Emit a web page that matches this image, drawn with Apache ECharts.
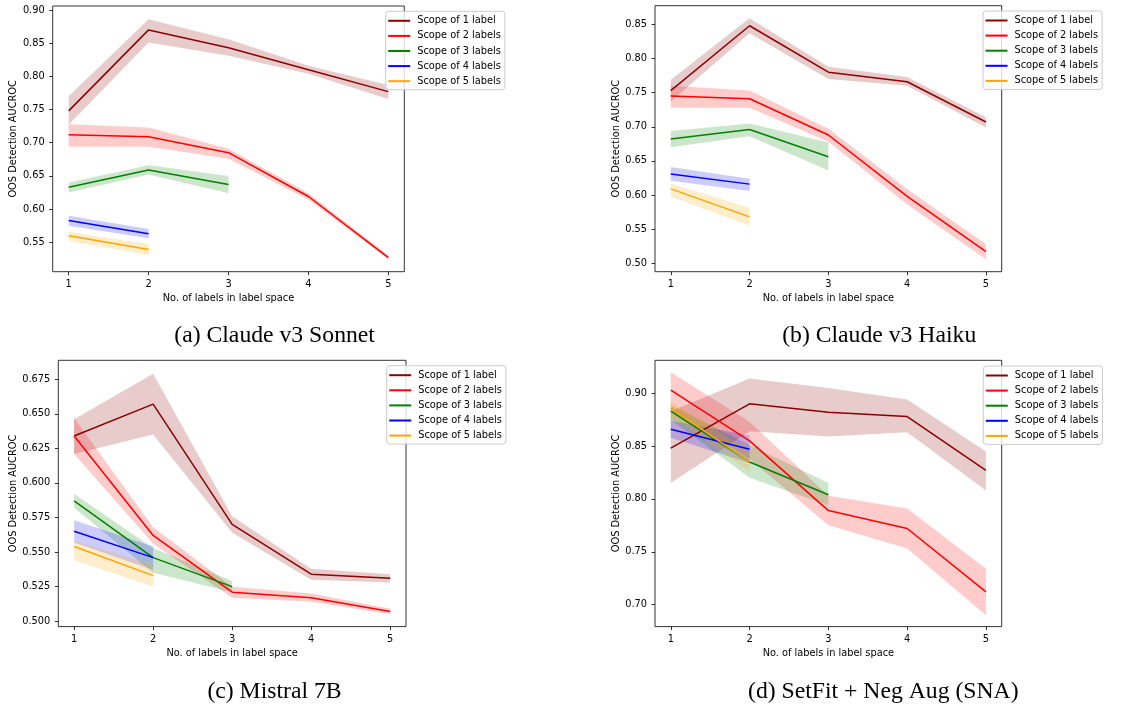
<!DOCTYPE html>
<html><head><meta charset="utf-8">
<script src="https://cdn.jsdelivr.net/npm/echarts@6/dist/echarts.min.js"></script>
<style>html,body{margin:0;padding:0;background:#fff}#c{width:1148px;height:706px}</style>
</head><body><div id="c"></div>
<script>
// ---------- DATA ----------
const xTicks = [1, 2, 3, 4, 5];
const scopeNames = ['Scope of 1 label', 'Scope of 2 labels', 'Scope of 3 labels', 'Scope of 4 labels', 'Scope of 5 labels'];
const scopeX = [[1, 2, 3, 4, 5], [1, 2, 3, 4, 5], [1, 2, 3], [1, 2], [1, 2]];
const captions = ['(a) Claude v3 Sonnet', '(b) Claude v3 Haiku', '(c) Mistral 7B', '(d) SetFit + Neg Aug (SNA)'];
const xAxisTitle = 'No. of labels in label space';
const yAxisTitle = 'OOS Detection AUCROC';

// (a) Claude v3 Sonnet
const sonnetMean = [[0.748, 0.870, 0.843, 0.810, 0.777], [0.712, 0.709, 0.685, 0.619, 0.527], [0.633, 0.659, 0.637], [0.583, 0.563], [0.560, 0.539]];
const sonnetLow  = [[0.727, 0.851, 0.831, 0.804, 0.766], [0.694, 0.694, 0.676, 0.614, 0.524], [0.625, 0.652, 0.624], [0.575, 0.556], [0.552, 0.531]];
const sonnetHigh = [[0.770, 0.886, 0.856, 0.816, 0.787], [0.728, 0.723, 0.691, 0.624, 0.530], [0.640, 0.666, 0.650], [0.590, 0.570], [0.566, 0.547]];
const sonnetYTicks = [0.55, 0.60, 0.65, 0.70, 0.75, 0.80, 0.85, 0.90];

// (b) Claude v3 Haiku
const haikuMean = [[0.753, 0.848, 0.780, 0.766, 0.707], [0.745, 0.741, 0.688, 0.598, 0.517], [0.682, 0.696, 0.656], [0.631, 0.616], [0.609, 0.568]];
const haikuLow  = [[0.737, 0.837, 0.770, 0.760, 0.699], [0.728, 0.728, 0.678, 0.586, 0.506], [0.670, 0.686, 0.636], [0.621, 0.606], [0.598, 0.555]];
const haikuHigh = [[0.769, 0.859, 0.788, 0.773, 0.714], [0.760, 0.753, 0.697, 0.609, 0.528], [0.694, 0.705, 0.677], [0.641, 0.624], [0.617, 0.581]];
const haikuYTicks = [0.50, 0.55, 0.60, 0.65, 0.70, 0.75, 0.80, 0.85];

// (c) Mistral 7B
const mistralMean = [[0.634, 0.657, 0.570, 0.534, 0.531], [0.634, 0.562, 0.521, 0.517, 0.507], [0.587, 0.546, 0.525], [0.565, 0.546], [0.554, 0.533]];
const mistralLow  = [[0.621, 0.635, 0.564, 0.530, 0.528], [0.621, 0.556, 0.517, 0.514, 0.505], [0.582, 0.535, 0.521], [0.557, 0.537], [0.544, 0.525]];
const mistralHigh = [[0.646, 0.679, 0.576, 0.538, 0.534], [0.647, 0.568, 0.525, 0.520, 0.509], [0.592, 0.553, 0.529], [0.573, 0.554], [0.558, 0.541]];
const mistralYTicks = [0.500, 0.525, 0.550, 0.575, 0.600, 0.625, 0.650, 0.675];

// (d) SetFit + Neg Aug (SNA)
const setfitMean = [[0.848, 0.890, 0.882, 0.878, 0.827], [0.903, 0.855, 0.789, 0.772, 0.712], [0.883, 0.835, 0.804], [0.866, 0.847], [0.886, 0.835]];
const setfitLow  = [[0.815, 0.864, 0.859, 0.863, 0.808], [0.884, 0.838, 0.775, 0.753, 0.690], [0.875, 0.820, 0.794], [0.858, 0.834], [0.878, 0.826]];
const setfitHigh = [[0.883, 0.914, 0.905, 0.894, 0.845], [0.920, 0.873, 0.803, 0.791, 0.734], [0.889, 0.851, 0.815], [0.874, 0.860], [0.893, 0.845]];
const setfitYTicks = [0.70, 0.75, 0.80, 0.85, 0.90];

// ---------- STYLE / LAYOUT ----------
const COLORS = ['#8b0000', '#ff0000', '#008000', '#0000ff', '#ffa500'];
const BANDS = ['rgba(139,0,0,0.2)', 'rgba(255,0,0,0.2)', 'rgba(0,128,0,0.2)', 'rgba(0,0,255,0.2)', 'rgba(255,165,0,0.2)'];
const FS = 9.8;
const SANS = 'DejaVu Sans';

const panels = [
  { mean: sonnetMean, lo: sonnetLow, hi: sonnetHigh, ticks: sonnetYTicks, dec: 2,
    grid: { left: 52.7, top: 6, width: 351.6, height: 265.7 }, ymin: 0.5057, ymax: 0.906, nameGap: 34,
    legend: { left: 385.7, top: 11.3 }, cap: { x: 274.6, y: 336 } },
  { mean: haikuMean, lo: haikuLow, hi: haikuHigh, ticks: haikuYTicks, dec: 2,
    grid: { left: 655, top: 5.7, width: 346.7, height: 266 }, ymin: 0.4877, ymax: 0.8774, nameGap: 34,
    legend: { left: 983, top: 11 }, cap: { x: 879.2, y: 336 } },
  { mean: mistralMean, lo: mistralLow, hi: mistralHigh, ticks: mistralYTicks, dec: 3,
    grid: { left: 58.3, top: 360.3, width: 347.7, height: 266.3 }, ymin: 0.4961, ymax: 0.6887, nameGap: 39,
    legend: { left: 386.7, top: 365.7 }, cap: { x: 274.5, y: 692 } },
  { mean: setfitMean, lo: setfitLow, hi: setfitHigh, ticks: setfitYTicks, dec: 2,
    grid: { left: 655, top: 360.3, width: 346.7, height: 266.3 }, ymin: 0.6792, ymax: 0.9312, nameGap: 34,
    legend: { left: 983.3, top: 366 }, cap: { x: 883.3, y: 692 } }
];

const option = { animation: false, backgroundColor: '#fff', grid: [], xAxis: [], yAxis: [], series: [], legend: [], graphic: [] };

panels.forEach((p, pi) => {
  option.grid.push(Object.assign({ show: true, borderColor: '#000', borderWidth: 0.8, backgroundColor: 'transparent' }, p.grid));
  option.xAxis.push({
    type: 'value', gridIndex: pi, min: 0.8, max: 5.2,
    name: xAxisTitle, nameLocation: 'middle', nameGap: 22,
    nameTextStyle: { fontFamily: SANS, fontSize: FS, color: '#000' },
    axisLine: { show: false },
    axisTick: { show: true, customValues: xTicks, length: 3.5, lineStyle: { color: '#000', width: 0.8 } },
    axisLabel: { customValues: xTicks, margin: 7.5, fontFamily: SANS, fontSize: FS, color: '#000', formatter: v => String(v) },
    splitLine: { show: false }
  });
  option.yAxis.push({
    type: 'value', gridIndex: pi, min: p.ymin, max: p.ymax,
    name: yAxisTitle, nameLocation: 'middle', nameGap: p.nameGap, nameRotate: 90,
    nameTextStyle: { fontFamily: SANS, fontSize: FS, color: '#000' },
    axisLine: { show: false },
    axisTick: { show: true, customValues: p.ticks, length: 3.5, lineStyle: { color: '#000', width: 0.8 } },
    axisLabel: { customValues: p.ticks, margin: 8, fontFamily: SANS, fontSize: FS, color: '#000', formatter: v => Number(v).toFixed(p.dec) },
    splitLine: { show: false }
  });
  // confidence bands
  scopeX.forEach((xs, si) => {
    const lo = p.lo[si], hi = p.hi[si];
    option.series.push({
      type: 'custom', name: 'band-' + pi + '-' + si, xAxisIndex: pi, yAxisIndex: pi, z: 1, silent: true,
      data: xs.map((x, i) => [x, lo[i], hi[i]]),
      encode: { x: 0, y: [1, 2] },
      renderItem: (params, api) => {
        if (params.dataIndex !== 0) return null;
        const pts = [];
        xs.forEach((x, i) => pts.push(api.coord([x, hi[i]])));
        for (let i = xs.length - 1; i >= 0; i--) pts.push(api.coord([xs[i], lo[i]]));
        return { type: 'polygon', shape: { points: pts }, style: { fill: BANDS[si], stroke: null } };
      }
    });
  });
  // mean lines
  scopeX.forEach((xs, si) => {
    option.series.push({
      type: 'line', name: scopeNames[si], xAxisIndex: pi, yAxisIndex: pi, z: 3,
      data: xs.map((x, i) => [x, p.mean[si][i]]),
      symbol: 'none', showSymbol: false, color: COLORS[si],
      lineStyle: { color: COLORS[si], width: 1.5 }
    });
  });
  option.legend.push({
    data: scopeNames, orient: 'vertical', left: p.legend.left, top: p.legend.top, z: 10,
    icon: 'rect', itemWidth: 22, itemHeight: 2, itemGap: 3.1,
    padding: [3.5, 4, 2.5, 2.5], backgroundColor: 'rgba(255,255,255,0.8)',
    borderColor: '#cccccc', borderWidth: 1, borderRadius: 3,
    selectedMode: false,
    textStyle: { fontFamily: SANS, fontSize: FS, color: '#000', lineHeight: 12, padding: [0, 0, 0, 2] }
  });
  option.graphic.push({
    type: 'text', x: p.cap.x, y: p.cap.y, z: 10,
    style: { text: captions[pi], fill: '#000', font: '23.7px "Liberation Serif"', textAlign: 'center', textVerticalAlign: 'middle' }
  });
});

const chart = echarts.init(document.getElementById('c'), null, { renderer: 'canvas' });
chart.setOption(option);
</script></body></html>
